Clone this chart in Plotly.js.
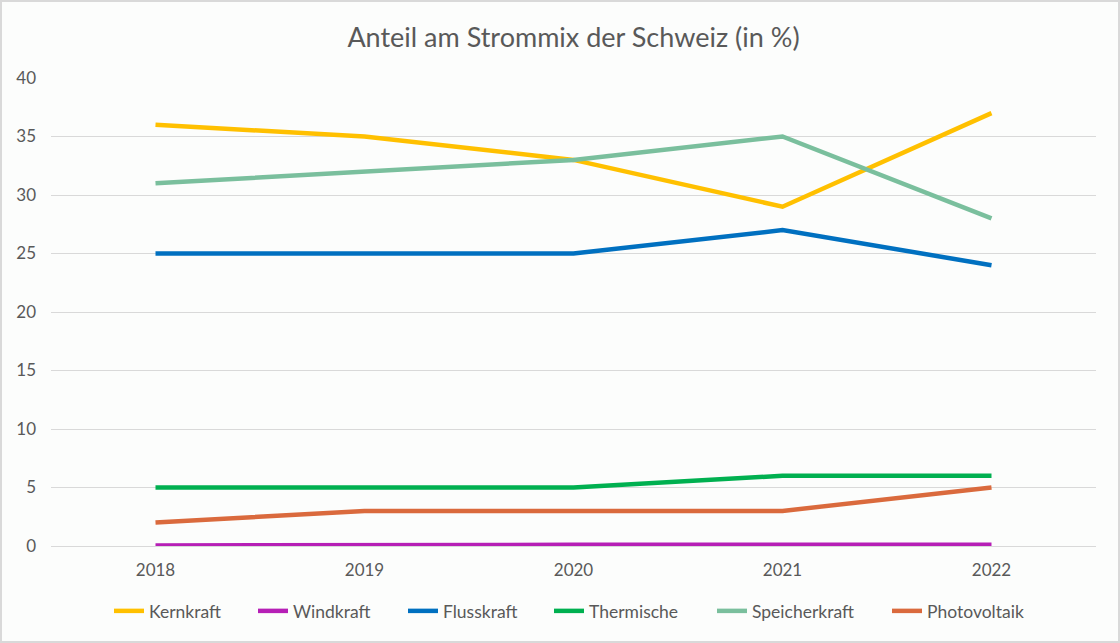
<!DOCTYPE html>
<html>
<head>
<meta charset="utf-8">
<script src="https://cdn.plot.ly/plotly-3.0.1.min.js"></script>
<style>
html,body{margin:0;padding:0;background:#fff;}
#wrap{width:1116px;height:639px;border:2px solid #d9d9d9;background:#fcfdfc;}
#chart{width:1116px;height:639px;}
</style>
</head>
<body>
<div id="wrap"><div id="chart"></div></div>
<script>
const years = ["2018", "2019", "2020", "2021", "2022"];
const kernkraft = [36, 35, 33, 29, 37];
const windkraft = [0.05, 0.1, 0.1, 0.1, 0.1];
const flusskraft = [25, 25, 25, 27, 24];
const thermische = [5, 5, 5, 6, 6];
const speicherkraft = [31, 32, 33, 35, 28];
const photovoltaik = [2, 3, 3, 3, 5];

const seriesNames = ["Kernkraft", "Windkraft", "Flusskraft", "Thermische", "Speicherkraft", "Photovoltaik"];
const seriesValues = [kernkraft, windkraft, flusskraft, thermische, speicherkraft, photovoltaik];
const seriesColors = ["#FFC000", "#B61FB6", "#0070C0", "#00B050", "#7ABF9D", "#DA6A3D"];

const font = "Lato, 'Open Sans', sans-serif";
const legendIds = ["legend", "legend2", "legend3", "legend4", "legend5", "legend6"];
// page x of each legend entry's left edge (layout positions)
const legendLeft = [109, 253, 403, 549, 712, 887];

const W = 1116, H = 639, ML = 49, MR = 22, MT = 76, MB = 95;
const PW = W - ML - MR, PH = H - MT - MB;

const traces = seriesNames.map((n, i) => ({
  type: "scatter",
  mode: "lines",
  name: n,
  x: years,
  y: seriesValues[i],
  line: {color: seriesColors[i], width: 4.5},
  legend: legendIds[i],
  hoverinfo: "x+y+name"
}));

const layout = {
  width: W,
  height: H,
  paper_bgcolor: "#fcfdfc",
  plot_bgcolor: "#fcfdfc",
  margin: {l: ML, r: MR, t: MT, b: MB},
  font: {family: font, color: "#595959"},
  title: {
    text: "Anteil am Strommix der Schweiz (in %)",
    font: {family: font, size: 27, color: "#595959"},
    x: 0.5, xanchor: "center", xref: "paper",
    y: 1 - 36/H, yanchor: "middle", yref: "container"
  },
  xaxis: {
    type: "category",
    range: [-0.5, 4.5],
    showgrid: false,
    showline: false,
    ticks: "",
    ticklabelstandoff: 12,
    tickfont: {family: font, size: 17, color: "#595959"},
    fixedrange: true
  },
  yaxis: {
    range: [0, 40],
    dtick: 5,
    showgrid: true,
    gridcolor: "#d9d9d9",
    gridwidth: 1,
    zeroline: true,
    zerolinecolor: "#d9d9d9",
    zerolinewidth: 1,
    showline: false,
    ticks: "",
    ticklabelstandoff: 14,
    tickfont: {family: font, size: 17, color: "#595959"},
    fixedrange: true
  },
  showlegend: true
};

legendIds.forEach((id, i) => {
  layout[id] = {
    orientation: "h",
    x: (legendLeft[i] - 2 - ML) / PW,
    xanchor: "left",
    y: -(609 - (H - MB)) / PH,
    yanchor: "middle",
    font: {family: font, size: 17.5, color: "#595959"},
    bgcolor: "rgba(0,0,0,0)",
    borderwidth: 0,
    itemwidth: 30
  };
});

Plotly.newPlot("chart", traces, layout, {displayModeBar: false, staticPlot: true});
</script>
</body>
</html>
